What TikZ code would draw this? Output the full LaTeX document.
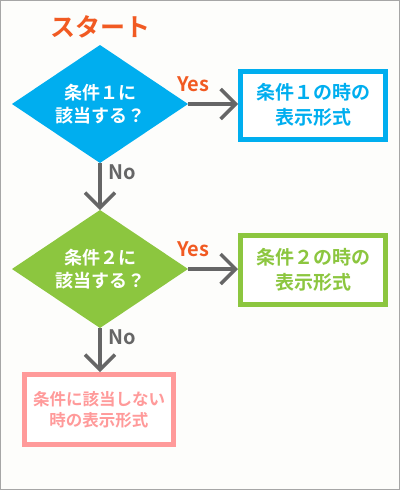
\documentclass[tikz,border=0pt]{standalone}
\usepackage{fontspec}
\setmainfont{Noto Sans CJK JP}[BoldFont={* Bold}]
\usetikzlibrary{shapes.geometric, arrows.meta}

\definecolor{startorange}{HTML}{F15A22}
\definecolor{condblue}{HTML}{00AEEF}
\definecolor{condgreen}{HTML}{8CC63F}
\definecolor{nonepink}{HTML}{FF9A9A}
\definecolor{flowgray}{HTML}{666666}
\definecolor{paper}{HTML}{FDFDFB}

\begin{document}
\begin{tikzpicture}[x=1pt, y=-1pt]

\tikzset{decision/.style={shape=diamond, aspect=1.5, fill=#1, text=white, minimum width=176pt, minimum height=118pt, inner sep=0pt, outer sep=0pt, align=center, font=\bfseries\fontsize{18}{23}\selectfont}}
\tikzset{result/.style={shape=rectangle, draw=#1, text=#1, fill=white, line width=5pt, minimum width=145pt, minimum height=69pt, inner sep=0pt, align=center, font=\bfseries\fontsize{19}{25}\selectfont}}
\tikzset{flow/.style={draw=flowgray, line width=4pt, -{Straight Barb[length=15pt, width=30pt, line width=3.5pt]}}}
\tikzset{answer/.style={font=\bfseries\fontsize{20}{22}\selectfont, inner sep=0pt}}

% frame
\draw[draw=gray!70, fill=paper, line width=1pt] (0.5,0.5) rectangle (399.5,489.5);
\useasboundingbox (0,0) rectangle (400,490);

\node[text=startorange, font=\bfseries\fontsize{25}{27}\selectfont] (start) at (100,27) {スタート};

\node[decision=condblue] (cond1) at (100,104) {条件１に\\該当する？};
\node[decision=condgreen] (cond2) at (100,269) {条件２に\\該当する？};

\node[result=condblue, minimum height=68pt] (show1) at (313,105) {条件１の時の\\表示形式};
\node[result=condgreen] (show2) at (313,270) {条件２の時の\\表示形式};
\node[result=nonepink, minimum width=149pt, minimum height=70pt, font=\bfseries\fontsize{16.5}{21}\selectfont] (show3) at (99,409.5) {条件に該当しない\\時の表示形式};

\draw[flow] (cond1.east) -- (cond1.east -| show1.west) node[answer, text=startorange, pos=0.1, yshift=20pt] {Yes};
\draw[flow] (cond1.south) -- (cond2.north) node[answer, text=flowgray, pos=0.2, xshift=22pt] {No};
\draw[flow] (cond2.east) -- (cond2.east -| show2.west) node[answer, text=startorange, pos=0.1, yshift=20pt] {Yes};
\draw[flow] (cond2.south) -- (cond2.south |- show3.north) node[answer, text=flowgray, pos=0.2, xshift=22pt] {No};

\end{tikzpicture}
\end{document}
